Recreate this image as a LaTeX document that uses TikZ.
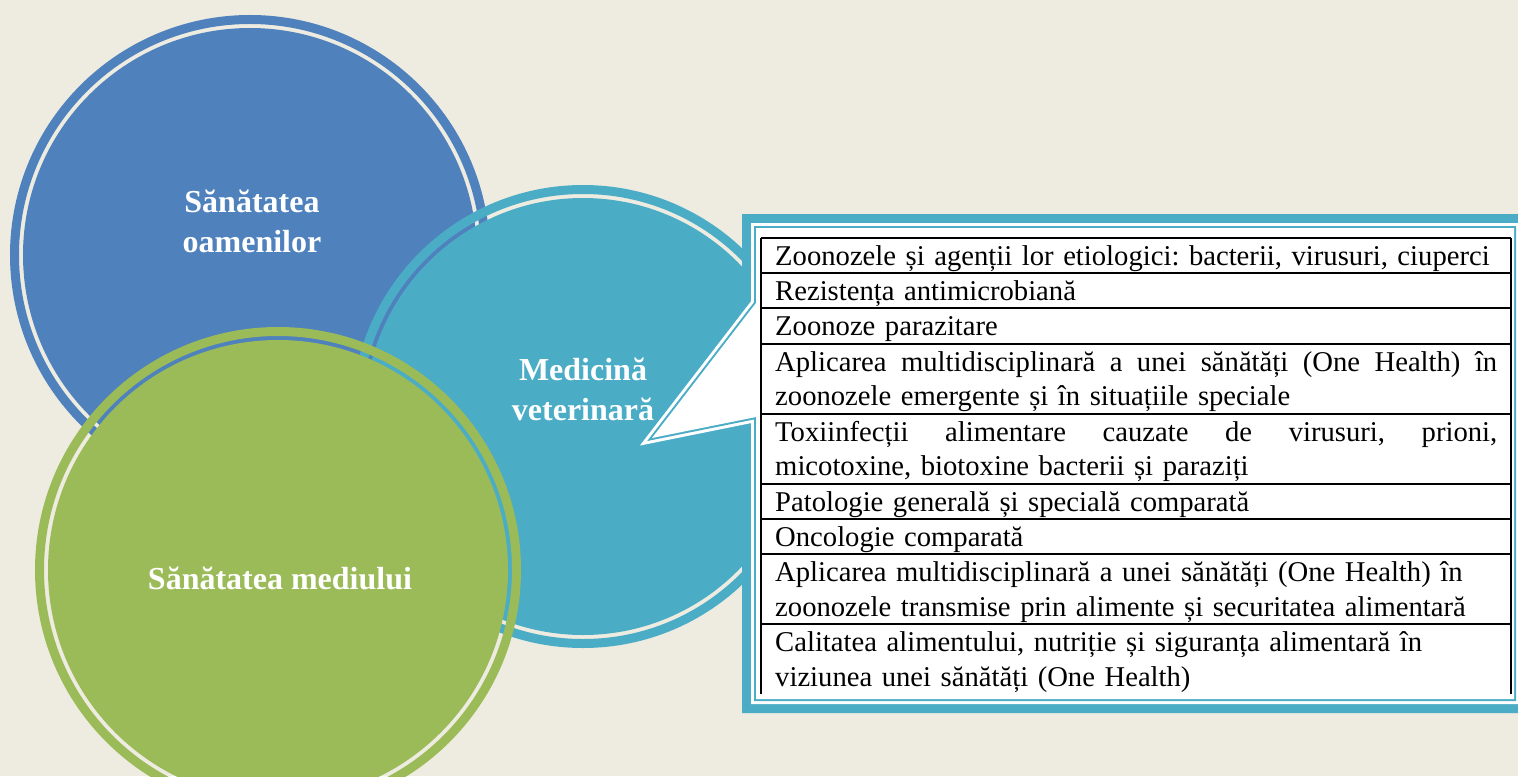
\documentclass[tikz,border=0pt]{standalone}
\usepackage{fontspec}
\setmainfont{Liberation Serif}
\usepackage{xcolor}
\usetikzlibrary{positioning}
\definecolor{bgcream}{HTML}{EEECE1}
\definecolor{ohblue}{HTML}{4F81BD}
\definecolor{ohaqua}{HTML}{4BACC6}
\definecolor{ohgreen}{HTML}{9BBB59}
\frenchspacing
\hyphenpenalty=10000
\newlength{\rowtextw}
\setlength{\rowtextw}{722bp}
\newcommand{\rowstrut}{\rule[-7.6bp]{0pt}{34.8bp}}
\newcommand{\fullline}[1]{\hbox to \rowtextw{\spaceskip=0.25em plus 1em\relax #1}}
\tikzset{
	x=1bp, y=-1bp,
	ring/.style={line width=9bp},
	circlelabel/.style={
			text=white,
			font=\fontsize{32bp}{40bp}\selectfont\bfseries,
			align=center,
		},
	tablerow/.style={
			text width=\rowtextw,
			inner xsep=14bp, inner ysep=0pt,
			align=left,
			font=\fontsize{28.65bp}{34.8bp}\selectfont,
		},
	tablerule/.style={line width=2bp, black},
}

\begin{document}
\begin{tikzpicture}
	\useasboundingbox (0,0) rectangle (1518,776);
	\clip (0,0) rectangle (1518,776);
	\fill[bgcream] (0,0) rectangle (1518,776);

	% circles
	\fill[ohblue] (250,255) circle[radius=227bp];
	\draw[ring, ohblue] (250,255) circle[radius=235.5bp];
	\fill[ohaqua] (583,416.5) circle[radius=218.5bp];
	\draw[ring, ohaqua] (583,416.5) circle[radius=227bp];
	\fill[ohgreen] (278,570) circle[radius=230bp];
	\draw[ring, ohgreen] (278,570) circle[radius=238.5bp];

	% callout
	\def\calloutpath{(756,228) -- (1514,228) -- (1514,699) -- (756,699) -- (756,417) -- (652,438) -- (756,303) -- cycle}
	\foreach \w/\c in {28/ohaqua,10/white,4/ohaqua}
		\draw[\c, line width=\w bp] \calloutpath;
	\fill[white] \calloutpath;

	\node[circlelabel] (humanlabel) at (252,221) {Sănătatea\\oamenilor};
	\node[circlelabel] (vetlabel) at (583,389) {Medicină\\veterinară};
	\node[circlelabel] (envlabel) at (280,578) {Sănătatea mediului};

	% table
	\node[tablerow, anchor=north west] at (761,238) (r1) {\rowstrut\mbox{Zoonozele și agenții lor etiologici: bacterii, virusuri, ciuperci}};
	\node[tablerow, below right=0pt and 0pt of r1.south west] (r2) {\rowstrut Rezistența antimicrobiană};
	\node[tablerow, below right=0pt and 0pt of r2.south west] (r3) {\rowstrut Zoonoze parazitare};
	\node[tablerow, below right=0pt and 0pt of r3.south west] (r4) {\rowstrut\fullline{Aplicarea multidisciplinară a unei sănătăți (One Health) în}\\\rowstrut zoonozele emergente și în situațiile speciale};
	\node[tablerow, below right=0pt and 0pt of r4.south west] (r5) {\rowstrut\fullline{Toxiinfecții alimentare cauzate de virusuri, prioni,}\\\rowstrut micotoxine, biotoxine bacterii și paraziți};
	\node[tablerow, below right=0pt and 0pt of r5.south west] (r6) {\rowstrut Patologie generală și specială comparată};
	\node[tablerow, below right=0pt and 0pt of r6.south west] (r7) {\rowstrut Oncologie comparată};
	\node[tablerow, below right=0pt and 0pt of r7.south west] (r8) {\rowstrut Aplicarea multidisciplinară a unei sănătăți (One Health) în\\\rowstrut zoonozele transmise prin alimente și securitatea alimentară};
	\node[tablerow, below right=0pt and 0pt of r8.south west] (r9) {\rowstrut Calitatea alimentului, nutriție și siguranța alimentară în\\\rowstrut viziunea unei sănătăți (One Health)};

	\foreach \r in {1,...,9}
		\draw[tablerule] (r\r.north west) -- (r\r.north east);
	\draw[tablerule] (r1.north west) -- (r9.south west);
	\draw[tablerule] (r1.north east) -- (r9.south east);
\end{tikzpicture}
\end{document}
